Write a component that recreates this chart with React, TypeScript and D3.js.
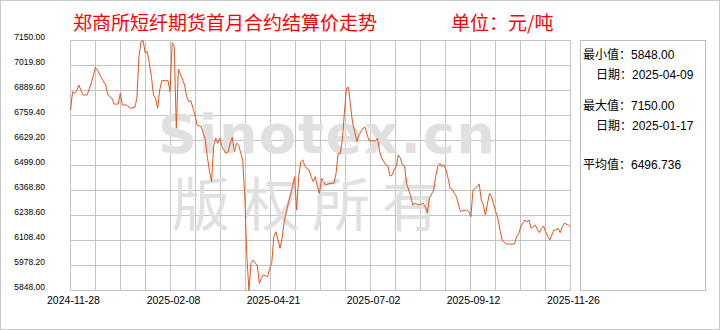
import React from "react";
import * as d3 from "d3";

// ---- data ----
const TITLE = "郑商所短纤期货首月合约结算价走势";
const UNIT = "单位：元/吨";

const Y_TICKS = ["7150.00", "7019.80", "6889.60", "6759.40", "6629.20", "6499.00", "6368.80", "6238.60", "6108.40", "5978.20", "5848.00"];
const X_LABELS = ["2024-11-28", "2025-02-08", "2025-04-21", "2025-07-02", "2025-09-12", "2025-11-26"];

// number of trading sessions from 2024-11-28 to 2025-11-26
const SESSIONS = 242;

// [session index, settlement price]
const SETTLE: [number, number][] = [
  [0, 6788], [1, 6883], [2, 6875], [3, 6889], [4, 6918], [5, 6892], [6, 6866], [8, 6866], [10, 6927],
  [12, 7010], [13, 6996], [15, 6953], [17, 6918], [18, 6866], [20, 6849], [21, 6819], [23, 6819], [24, 6875],
  [25, 6814], [27, 6814], [29, 6797], [31, 6802], [32, 6849], [33, 7066], [34, 7144], [35, 7150], [36, 7086],
  [37, 7092], [38, 7031], [39, 6961], [40, 6866], [41, 6849], [42, 6797], [43, 6892], [44, 6941], [46, 6941],
  [47, 6941], [48, 6883], [49, 7139], [50, 7120], [51, 6693], [52, 7000], [53, 6975], [55, 6918], [56, 6857],
  [57, 6831], [58, 6836], [60, 6762], [61, 6710], [63, 6701], [65, 6632], [66, 6540], [67, 6470], [68, 6415],
  [69, 6600], [70, 6641], [71, 6615], [72, 6641], [73, 6597], [75, 6562], [76, 6571], [77, 6615], [78, 6646],
  [79, 6571], [80, 6615], [81, 6606], [83, 6528], [84, 6340], [85, 6025], [86, 5848], [87, 5990], [88, 6007],
  [89, 5990], [90, 5981], [91, 5885], [92, 5912], [93, 5929], [95, 5920], [96, 5963], [97, 5990], [98, 6128],
  [99, 6154], [100, 6111], [101, 6068], [102, 6120], [103, 6206], [105, 6302], [107, 6389], [108, 6441],
  [109, 6267], [110, 6441], [111, 6519], [112, 6528], [113, 6493], [115, 6476], [116, 6441], [117, 6415],
  [118, 6441], [119, 6389], [120, 6354], [121, 6432], [122, 6415], [123, 6397], [125, 6406], [127, 6406],
  [128, 6458], [129, 6562], [130, 6562], [131, 6632], [132, 6770], [133, 6901], [134, 6906], [135, 6805],
  [136, 6719], [137, 6675], [138, 6623], [139, 6658], [141, 6693], [142, 6698], [143, 6658], [144, 6627],
  [147, 6627], [148, 6641], [149, 6571], [150, 6537], [152, 6502], [153, 6496], [154, 6444], [155, 6449],
  [156, 6476], [157, 6493], [158, 6554], [159, 6537], [160, 6502], [161, 6496], [162, 6406], [164, 6337],
  [165, 6293], [166, 6302], [168, 6293], [170, 6302], [171, 6284], [172, 6253], [173, 6328], [175, 6371],
  [176, 6441], [177, 6493], [178, 6510], [179, 6493], [180, 6502], [181, 6476], [182, 6432], [183, 6380],
  [184, 6375], [185, 6354], [186, 6337], [188, 6258], [189, 6264], [191, 6267], [192, 6258], [193, 6232],
  [194, 6371], [196, 6389], [197, 6403], [198, 6319], [199, 6293], [200, 6241], [201, 6302], [202, 6354],
  [203, 6337], [204, 6293], [205, 6258], [206, 6224], [207, 6163], [208, 6111], [210, 6090], [214, 6090],
  [215, 6128], [216, 6142], [217, 6180], [219, 6215], [220, 6206], [221, 6215], [222, 6172], [223, 6180],
  [224, 6189], [225, 6167], [226, 6149], [227, 6172], [228, 6184], [229, 6154], [231, 6111], [232, 6137],
  [233, 6163], [234, 6163], [235, 6172], [236, 6149], [237, 6180], [238, 6198], [240, 6189], [241, 6180],
];

const STAT_LABELS = ["最小值：", "日期：", "最大值：", "日期：", "平均值："];
const STAT_VALUES = ["5848.00", "2025-04-09", "7150.00", "2025-01-17", "6496.736"];

const WATERMARK_EN = "Sinotex.cn";
const WATERMARK_CN = "版权所有";

// ---- layout ----
const W = 720;
const H = 330;
const L = 70.5, R = 570.5, T = 40.5, B = 290.5;
const COLS = 20, ROWS = 10;
const GRID = "#c3c3c3";
const LINE = "#e2561e";
const CJK = "'Noto Sans CJK SC', 'Noto Sans', sans-serif";
const NUM = "'Liberation Sans', Arial, sans-serif";

export default function App() {
  const x = d3.scaleLinear().domain([0, SESSIONS - 1]).range([L, R]);
  const y = d3.scaleLinear().domain([5848, 7150]).range([B, T]);
  const xl = d3.scalePoint<string>().domain(X_LABELS).range([L, R]);
  const gx = d3.scaleLinear().domain([0, COLS]).range([L, R]);
  const gy = d3.scaleLinear().domain([0, ROWS]).range([T, B]);

  const line = d3
    .line<[number, number]>()
    .x((d) => x(d[0]))
    .y((d) => y(d[1]));

  const statX = [583, 596, 583, 596, 583];
  const statY = [59, 79, 110, 130, 169];

  return (
    <svg
      width={W}
      height={H}
      viewBox={`0 0 ${W} ${H}`}
      style={{ position: "fixed", left: 0, top: 0, display: "block", background: "#fff" }}
    >
      <rect x={0.5} y={0.5} width={W - 1} height={H - 1} fill="#fff" stroke="#c8c8c8" />

      {/* title */}
      <text x={73} y={30} fill="#f00" fontSize={19} fontFamily={CJK}>{TITLE}</text>
      <text x={451} y={30} fill="#f00" fontSize={19} fontFamily={CJK}>{UNIT}</text>

      {/* grid */}
      {d3.range(COLS + 1).map((i) => (
        <line key={"v" + i} x1={gx(i)} x2={gx(i)} y1={T} y2={B} stroke={GRID} strokeWidth={1} />
      ))}
      {d3.range(ROWS + 1).map((i) => (
        <line key={"h" + i} x1={L} x2={R} y1={gy(i)} y2={gy(i)} stroke={GRID} strokeWidth={1} />
      ))}

      {/* watermark */}
      <text x={158} y={153} fill="#e0e0e0" fontSize={54} fontWeight="bold" fontFamily="'DejaVu Sans', sans-serif"
        textLength={337} lengthAdjust="spacing">{WATERMARK_EN}</text>
      <text x={172} y={226} fill="#e0e0e0" fontSize={58} fontFamily={CJK}
        textLength={268} lengthAdjust="spacing">{WATERMARK_CN}</text>

      {/* y labels */}
      {Y_TICKS.map((t) => (
        <text key={t} x={45} y={y(parseFloat(t)) - 1} textAnchor="end" fontSize={8.5} fontFamily={NUM} fill="#000">{t}</text>
      ))}

      {/* x labels */}
      {X_LABELS.map((t) => (
        <text key={t} x={(xl(t) as number) + 3} y={304} textAnchor="middle" fontSize={10.5} fontFamily={NUM} fill="#000">{t}</text>
      ))}

      {/* series */}
      <path d={line(SETTLE) || ""} fill="none" stroke={LINE} strokeWidth={1} strokeLinejoin="round" />

      {/* stats panel */}
      <rect x={580.5} y={40.5} width={125} height={250} fill="none" stroke="#bdbdbd" />
      {STAT_LABELS.map((lab, i) => (
        <text key={i} x={statX[i]} y={statY[i]} fontSize={12} fontFamily={CJK} fill="#000">
          {lab}
          <tspan fontFamily={NUM}>{STAT_VALUES[i]}</tspan>
        </text>
      ))}
    </svg>
  );
}
